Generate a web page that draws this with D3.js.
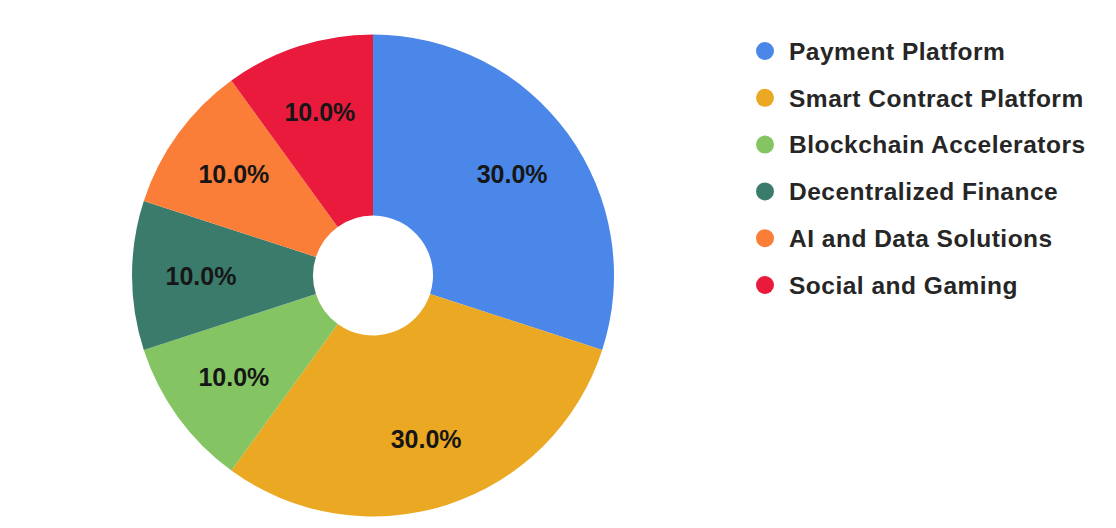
<!DOCTYPE html>
<html>
<head>
<meta charset="utf-8">
<script src="https://cdn.jsdelivr.net/npm/d3@7"></script>
<style>
  html, body { margin: 0; padding: 0; background: #fff; }
  svg { display: block; }
</style>
</head>
<body>
<div id="chart"></div>
<script>
// Chart data
const categories = [
    "Payment Platform",
    "Smart Contract Platform",
    "Blockchain Accelerators",
    "Decentralized Finance",
    "AI and Data Solutions",
    "Social and Gaming"
];
const shares = [30, 30, 10, 10, 10, 10];
const colors = ["#4a87e8", "#eaa823", "#84c462", "#3b7b6b", "#fa7d38", "#ea1a3d"];

const width = 1116;
const height = 528;
const cx = 373, cy = 275.5;
const outerR = 241, innerR = 60, labelR = 172;

const svg = d3.select("#chart")
    .append("svg")
    .attr("width", width)
    .attr("height", height);

const rows = categories.map((name, i) => ({ name, value: shares[i], color: colors[i] }));
const total = d3.sum(shares);

const pie = d3.pie().sort(null).value(d => d.value);
const arc = d3.arc().innerRadius(innerR).outerRadius(outerR);
const labelArc = d3.arc().innerRadius(labelR).outerRadius(labelR);

const g = svg.append("g")
    .attr("transform", `translate(${cx},${cy})`);

const arcs = pie(rows);

g.selectAll("path.slice")
    .data(arcs)
    .enter().append("path")
    .attr("class", "slice")
    .attr("d", arc)
    .attr("fill", d => d.data.color);

const fmt = d3.format(".1%");

g.selectAll("text.pct")
    .data(arcs)
    .enter().append("text")
    .attr("class", "pct")
    .attr("transform", d => `translate(${labelArc.centroid(d)})`)
    .attr("text-anchor", "middle")
    .attr("dy", "0.36em")
    .style("font-family", "'Liberation Sans', Arial, sans-serif")
    .style("font-size", "25px")
    .style("font-weight", "bold")
    .style("fill", "#161616")
    .text(d => fmt(d.data.value / total));

// Legend
const legendY = d3.scalePoint()
    .domain(categories)
    .range([51, 285]);

const legend = svg.append("g")
    .selectAll("g")
    .data(rows)
    .enter().append("g")
    .attr("transform", d => `translate(765,${legendY(d.name)})`);

legend.append("circle")
    .attr("r", 9)
    .attr("fill", d => d.color);

legend.append("text")
    .attr("x", 24)
    .attr("dy", "0.36em")
    .style("font-family", "'Liberation Sans', Arial, sans-serif")
    .style("font-size", "24.5px")
    .style("font-weight", "bold")
    .style("letter-spacing", "0.5px")
    .style("fill", "#262626")
    .text(d => d.name);
</script>
</body>
</html>
